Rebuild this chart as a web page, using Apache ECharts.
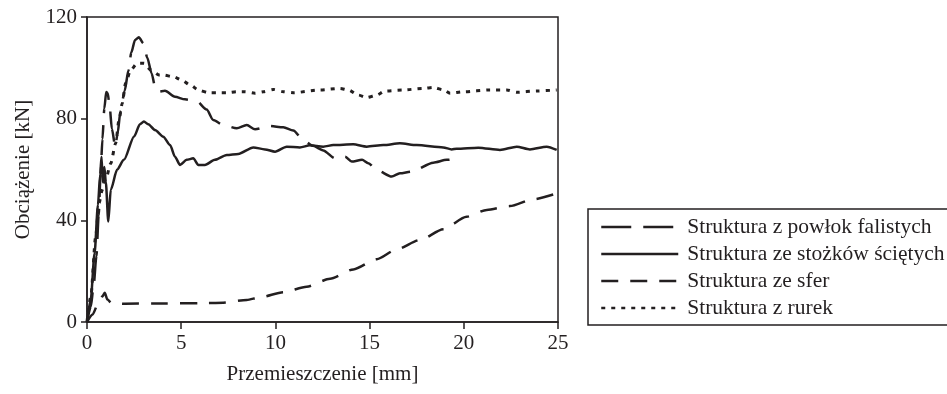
<!DOCTYPE html>
<html>
<head>
<meta charset="utf-8">
<script src="https://cdn.jsdelivr.net/npm/echarts@6/dist/echarts.min.js"></script>
<style>
  html, body { margin: 0; padding: 0; background: #ffffff; }
  #chart { width: 947px; height: 394px; }
</style>
</head>
<body>
<div id="chart"></div>
<script>
// Load–displacement curves: [displacement mm, load kN]
const seriesNames = [
  'Struktura z powłok falistych',
  'Struktura ze stożków ściętych',
  'Struktura ze sfer',
  'Struktura z rurek'
];

const powlokFalistych = [
  [0, 0], [0.2, 6], [0.35, 14], [0.5, 26], [0.62, 42], [0.72, 58], [0.82, 72], [0.92, 84],
  [1.02, 90.5], [1.1, 90], [1.2, 85], [1.32, 76], [1.5, 69], [1.62, 74], [1.78, 83],
  [2.0, 91], [2.2, 99], [2.35, 106], [2.55, 111], [2.75, 112], [3.0, 109.6], [3.2, 104],
  [3.43, 97.8], [3.6, 93], [3.77, 90.6], [4.14, 91], [4.67, 88.6], [5.2, 87.6], [5.82, 86.9],
  [6.35, 83.6], [6.7, 79.5], [7.23, 77.5], [7.95, 76.2], [8.48, 77.5], [8.92, 75.8],
  [9.71, 77.1], [10.42, 76.6], [10.95, 75.3], [11.48, 71.6], [12.0, 69.3], [12.54, 67.5],
  [13.16, 64.4], [13.7, 65], [14.05, 63.1], [14.6, 63.8], [14.93, 62.5], [15.38, 59.8],
  [16.17, 57.2], [16.61, 58.5], [17.23, 59.2], [18.38, 62.7], [19.1, 63.8], [19.7, 64.4]
];

const stozkowScietych = [
  [0, 0], [0.2, 9], [0.4, 27], [0.58, 46], [0.7, 58], [0.77, 65], [0.84, 55], [0.92, 61],
  [1.0, 55], [1.13, 39.5], [1.26, 52], [1.6, 60], [1.96, 63.8], [2.5, 73], [2.81, 77.8],
  [3.02, 78.9], [3.25, 77.8], [3.61, 75.5], [4.05, 72.9], [4.41, 69.6], [4.67, 65],
  [4.94, 61.8], [5.29, 63.8], [5.64, 64.4], [5.91, 61.8], [6.26, 61.8], [6.79, 63.8],
  [7.42, 65.7], [8.03, 66.1], [8.83, 68.7], [9.45, 67.9], [9.98, 67], [10.6, 69],
  [11.3, 68.7], [11.84, 69.5], [12.54, 69], [13.07, 69.6], [14.13, 69.9], [14.85, 69],
  [15.73, 69.6], [16.61, 70.3], [17.5, 69.6], [18.91, 68.7], [19.36, 67.9], [19.62, 68.2],
  [20.77, 68.6], [21.92, 67.7], [22.81, 69], [23.51, 67.9], [24.4, 69], [24.93, 67.7]
];

const sfer = [
  [0, 0], [0.3, 3], [0.6, 7.5], [0.81, 10], [0.94, 11.5], [1.08, 8.9], [1.3, 7.4],
  [2.0, 7.2], [4.0, 7.3], [6.0, 7.4], [7.23, 7.6], [8.48, 8.7], [9.18, 9.7],
  [10.42, 11.7], [11.66, 13.9], [12.9, 17], [14.14, 20.7], [15.38, 24.7], [16.44, 28.6],
  [17.68, 32.3], [18.91, 36.5], [20.15, 41.4], [21.22, 44.1], [22.45, 45.6],
  [23.69, 48.3], [24.93, 50.6]
];

const rurek = [
  [0, 0], [0.2, 10], [0.46, 33.6], [0.64, 46.8], [0.81, 52], [0.99, 55.9], [1.26, 62.4],
  [1.52, 70.3], [1.7, 79.5], [1.87, 86], [2.05, 94], [2.32, 99.2], [2.67, 101.8],
  [3.03, 101.8], [3.38, 99.2], [3.82, 97.2], [4.05, 97.2], [4.58, 96.5], [5.03, 95.2],
  [5.47, 93.3], [5.91, 91.3], [6.44, 90.2], [6.88, 90.2], [7.42, 90.2], [7.95, 90.6],
  [8.39, 90.6], [8.92, 90], [9.36, 90.6], [9.89, 91.5], [10.42, 90.6], [10.95, 90.2],
  [12.37, 91.3], [13.43, 91.9], [13.87, 91.3], [14.4, 89.3], [14.85, 88.3], [15.38, 89.3],
  [15.82, 90.9], [16.79, 91.3], [17.85, 91.9], [18.38, 92.3], [18.91, 91.3], [19.27, 90],
  [19.97, 90.6], [21.4, 91.3], [22.28, 91.3], [22.81, 90.4], [23.87, 90.9], [24.93, 91.3]
];

const xTicks = { min: 0, max: 25, step: 5 };
const yTicks = { min: 0, max: 120, step: 40 };

const ink = '#231f20';
const serif = '"Liberation Serif", "DejaVu Serif", serif';

function curve(name, data, dash, width) {
  return {
    name: name,
    type: 'line',
    data: data,
    symbol: 'none',
    smooth: 0.25,
    smoothMonotone: 'x',
    lineStyle: { color: ink, width: width, type: dash, cap: 'butt' },
    itemStyle: { color: ink },
    emphasis: { disabled: true }
  };
}

const chart = echarts.init(document.getElementById('chart'), null, { renderer: 'canvas' });
chart.setOption({
  animation: false,
  backgroundColor: '#ffffff',
  grid: {
    left: 87, right: 389, top: 17, bottom: 72,
    show: true, borderColor: ink, borderWidth: 1.5, backgroundColor: 'transparent'
  },
  xAxis: {
    type: 'value',
    min: xTicks.min, max: xTicks.max, interval: xTicks.step,
    name: 'Przemieszczenie [mm]',
    nameLocation: 'middle', nameGap: 42,
    nameTextStyle: { fontFamily: serif, fontSize: 21, color: ink },
    axisLine: { show: true, lineStyle: { color: ink, width: 1.5 } },
    axisTick: { show: true, inside: false, length: 7, lineStyle: { color: ink, width: 1.5 } },
    axisLabel: { fontFamily: serif, fontSize: 21, color: ink, margin: 11 },
    splitLine: { show: false }
  },
  yAxis: {
    type: 'value',
    min: yTicks.min, max: yTicks.max, interval: yTicks.step,
    name: 'Obciążenie [kN]',
    nameLocation: 'middle', nameGap: 53, nameRotate: 90,
    nameTextStyle: { fontFamily: serif, fontSize: 21, color: ink },
    axisLine: { show: true, lineStyle: { color: ink, width: 1.5 } },
    axisTick: { show: true, inside: false, length: 6, lineStyle: { color: ink, width: 1.5 } },
    axisLabel: { fontFamily: serif, fontSize: 21, color: ink, margin: 10 },
    splitLine: { show: false }
  },
  legend: {
    orient: 'vertical',
    left: 588, top: 209,
    padding: [7, 12, 6, 12],
    itemWidth: 77, itemHeight: 14, itemGap: 5,
    borderColor: ink, borderWidth: 1.5,
    selectedMode: false,
    itemStyle: { opacity: 0 },
    lineStyle: { width: 2.5 },
    textStyle: { fontFamily: serif, fontSize: 21.5, color: ink, lineHeight: 20, padding: [0, 0, 0, 4] },
    data: seriesNames
  },
  series: [
    curve(seriesNames[0], powlokFalistych, [30, 12], 2.5),
    curve(seriesNames[1], stozkowScietych, 'solid', 2.5),
    curve(seriesNames[2], sfer, [17, 12], 2.5),
    curve(seriesNames[3], rurek, [4, 6], 3)
  ]
});
</script>
</body>
</html>
